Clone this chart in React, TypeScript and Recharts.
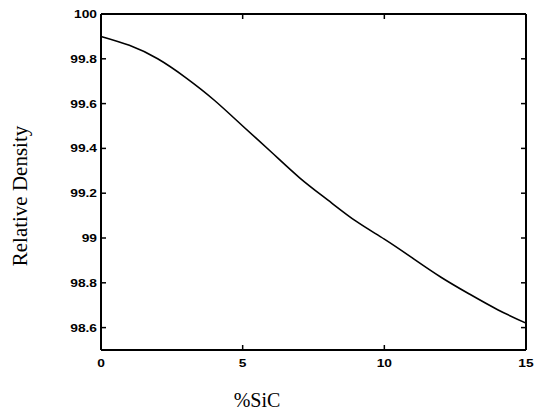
import { Line, LineChart, XAxis, YAxis } from 'recharts';

// %SiC vs relative density
const sic = [0, 1, 2, 3, 4, 5, 6, 7, 8, 9, 10, 11, 12, 13, 14, 15];
const density = [99.9, 99.86, 99.8, 99.715, 99.615, 99.5, 99.385, 99.27, 99.17, 99.075, 98.995, 98.91, 98.825, 98.75, 98.68, 98.62];

const xTicks = [0, 5, 10, 15];
const yTicks = [98.6, 98.8, 99, 99.2, 99.4, 99.6, 99.8, 100];

const data = sic.map((x, i) => ({ x, y: density[i] }));

const fmt = (v: number) => String(Number(v.toFixed(1)));
const tickFont = { fontFamily: 'Liberation Sans, Arial, sans-serif', fontWeight: 700, fontSize: 11 };
const STUB = 5;

// matlab style: ticks point into the plot box
const BottomTick = (props: any) => {
  const { x, y, payload } = props;
  return (
    <g>
      <path d={`M${x},${y}V${y - STUB}`} stroke="#000" strokeWidth={1.5} fill="none" />
      <text transform={`translate(${x},${y + 17}) scale(1.25,1)`} textAnchor="middle" fill="#000" style={tickFont}>
        {fmt(payload.value)}
      </text>
    </g>
  );
};

const TopTick = (props: any) => {
  const { x, y } = props;
  return <path d={`M${x},${y}V${y + STUB}`} stroke="#000" strokeWidth={1.5} fill="none" />;
};

const LeftTick = (props: any) => {
  const { x, y, payload } = props;
  return (
    <g>
      <path d={`M${x},${y}H${x + STUB}`} stroke="#000" strokeWidth={1.5} fill="none" />
      <text transform={`translate(${x - 4},${y + 4}) scale(1.25,1)`} textAnchor="end" fill="#000" style={tickFont}>
        {fmt(payload.value)}
      </text>
    </g>
  );
};

const RightTick = (props: any) => {
  const { x, y } = props;
  return <path d={`M${x},${y}H${x - STUB}`} stroke="#000" strokeWidth={1.5} fill="none" />;
};

const frame = { stroke: '#000', strokeWidth: 2 };

export default function App() {
  return (
    <div style={{ position: 'absolute', left: 0, top: 0, width: 534, height: 410, background: '#fff' }}>
      <LineChart width={534} height={410} data={data} margin={{ top: 13, right: 7, bottom: 0, left: 0 }}>
        <XAxis
          xAxisId="bottom"
          dataKey="x"
          type="number"
          domain={[0, 15]}
          ticks={xTicks}
          height={60}
          tickSize={0}
          tickMargin={0}
          tickLine={false}
          tick={<BottomTick />}
          axisLine={frame}
          label={{
            content: () => (
              <text x={257} y={407} textAnchor="middle" fill="#000" fontFamily="Liberation Serif, Times New Roman, serif" fontSize={20}>
                %SiC
              </text>
            ),
          }}
        />
        <XAxis
          xAxisId="top"
          orientation="top"
          dataKey="x"
          type="number"
          domain={[0, 15]}
          ticks={xTicks}
          height={1}
          tickSize={0}
          tickMargin={0}
          tickLine={false}
          tick={<TopTick />}
          axisLine={frame}
        />
        <YAxis
          yAxisId="left"
          type="number"
          domain={[98.5, 100]}
          ticks={yTicks}
          width={101}
          tickSize={0}
          tickMargin={0}
          tickLine={false}
          tick={<LeftTick />}
          axisLine={frame}
          label={{
            content: () => (
              <text
                transform="translate(27,196) rotate(-90)"
                textAnchor="middle"
                fill="#000"
                fontFamily="Liberation Serif, Times New Roman, serif"
                fontSize={21}
              >
                Relative Density
              </text>
            ),
          }}
        />
        <YAxis
          yAxisId="right"
          orientation="right"
          type="number"
          domain={[98.5, 100]}
          ticks={yTicks}
          width={1}
          tickSize={0}
          tickMargin={0}
          tickLine={false}
          tick={<RightTick />}
          axisLine={frame}
        />
        {/* invisible copy so the top / right frame axes get rendered */}
        <Line
          xAxisId="top"
          yAxisId="right"
          type="natural"
          dataKey="y"
          stroke="#000"
          strokeOpacity={0}
          dot={false}
          activeDot={false}
          isAnimationActive={false}
        />
        <Line
          xAxisId="bottom"
          yAxisId="left"
          type="natural"
          dataKey="y"
          stroke="#000"
          strokeWidth={1.6}
          dot={false}
          isAnimationActive={false}
        />
      </LineChart>
    </div>
  );
}
